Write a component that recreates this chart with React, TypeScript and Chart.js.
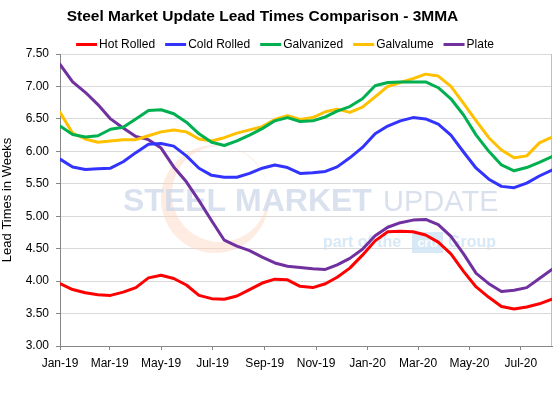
import { useEffect, useRef } from "react";
import { Chart, registerables } from "chart.js";

Chart.register(...registerables);

// ---- data ----
const surveyDates = [
  "2019-01-01", "2019-01-16", "2019-01-31", "2019-02-15", "2019-03-02", "2019-03-17", "2019-04-01", "2019-04-16",
  "2019-05-01", "2019-05-16", "2019-05-31", "2019-06-15", "2019-06-30", "2019-07-15", "2019-07-30", "2019-08-14",
  "2019-08-29", "2019-09-13", "2019-09-28", "2019-10-13", "2019-10-28", "2019-11-12", "2019-11-26", "2019-12-11",
  "2019-12-26", "2020-01-10", "2020-01-25", "2020-02-09", "2020-02-24", "2020-03-10", "2020-03-25", "2020-04-09",
  "2020-04-24", "2020-05-09", "2020-05-24", "2020-06-08", "2020-06-23", "2020-07-08", "2020-07-23", "2020-08-07",
];

const hotRolled = [
  3.96, 3.87, 3.82, 3.79, 3.78, 3.83, 3.90, 4.05, 4.09, 4.04,
  3.94, 3.78, 3.73, 3.72, 3.77, 3.87, 3.97, 4.03, 4.02, 3.92,
  3.90, 3.96, 4.06, 4.20, 4.40, 4.62, 4.76, 4.77, 4.76, 4.71,
  4.60, 4.42, 4.15, 3.91, 3.75, 3.61, 3.57, 3.60, 3.65, 3.72,
];
const coldRolled = [
  5.88, 5.76, 5.72, 5.73, 5.74, 5.84, 5.98, 6.11, 6.12, 6.08,
  5.93, 5.74, 5.63, 5.60, 5.60, 5.66, 5.74, 5.79, 5.75, 5.66,
  5.67, 5.69, 5.76, 5.90, 6.06, 6.27, 6.39, 6.47, 6.52, 6.50,
  6.42, 6.25, 5.99, 5.74, 5.57, 5.46, 5.44, 5.51, 5.62, 5.71,
];
const galvanized = [
  6.39, 6.26, 6.22, 6.24, 6.34, 6.37, 6.50, 6.63, 6.64, 6.58,
  6.45, 6.27, 6.14, 6.09, 6.16, 6.25, 6.35, 6.47, 6.52, 6.46,
  6.47, 6.53, 6.62, 6.69, 6.81, 7.01, 7.06, 7.07, 7.07, 7.07,
  6.98, 6.81, 6.56, 6.25, 6.00, 5.79, 5.70, 5.75, 5.83, 5.92,
];
const galvalume = [
  6.60, 6.28, 6.19, 6.14, 6.16, 6.18, 6.18, 6.24, 6.30, 6.33,
  6.30, 6.19, 6.16, 6.21, 6.28, 6.33, 6.38, 6.49, 6.55, 6.49,
  6.52, 6.61, 6.65, 6.60, 6.68, 6.84, 7.00, 7.06, 7.12, 7.19,
  7.16, 7.00, 6.74, 6.47, 6.21, 6.02, 5.90, 5.93, 6.13, 6.22,
];
const plate = [
  7.34, 7.07, 6.91, 6.72, 6.50, 6.36, 6.23, 6.18, 6.05, 5.76,
  5.53, 5.24, 4.93, 4.63, 4.54, 4.47, 4.37, 4.28, 4.23, 4.21,
  4.19, 4.18, 4.25, 4.35, 4.49, 4.70, 4.83, 4.90, 4.94, 4.95,
  4.87, 4.69, 4.42, 4.12, 3.96, 3.84, 3.86, 3.90, 4.04, 4.18,
];

const seriesNames = ["Hot Rolled", "Cold Rolled", "Galvanized", "Galvalume", "Plate"];
const seriesColors = ["#FF0000", "#3333FF", "#00B050", "#FFC000", "#7030A0"];
const seriesValues = [hotRolled, coldRolled, galvanized, galvalume, plate];

const tickDates = [
  "2019-01-01", "2019-03-01", "2019-05-01", "2019-07-01", "2019-09-01",
  "2019-11-01", "2020-01-01", "2020-03-01", "2020-05-01", "2020-07-01",
];
const tickLabels = ["Jan-19", "Mar-19", "May-19", "Jul-19", "Sep-19", "Nov-19", "Jan-20", "Mar-20", "May-20", "Jul-20"];

const chartTitle = "Steel Market Update Lead Times Comparison - 3MMA";
const yAxisTitle = "Lead Times in Weeks";
const yMin = 3;
const yMax = 7.5;
const yStep = 0.5;

const DAY_MS = 86400000;
const originMs = Date.parse(surveyDates[0]);
const toDay = (d: string) => (Date.parse(d) - originMs) / DAY_MS;

const FONT = "'Liberation Sans', Arial, sans-serif";

const decorPlugin = {
  id: "smuDecor",
  beforeDatasetsDraw(chart: any) {
    const { ctx, chartArea: ca } = chart;
    ctx.save();
    // right border of plot area
    ctx.strokeStyle = "#BFBFBF";
    ctx.lineWidth = 1;
    ctx.beginPath();
    ctx.moveTo(Math.round(ca.right) - 0.5, ca.top);
    ctx.lineTo(Math.round(ca.right) - 0.5, ca.bottom);
    ctx.stroke();

    // watermark ring
    const cx = ca.left + 155;
    const cy = ca.top + 145;
    ctx.beginPath();
    ctx.arc(cx, cy, 54, 0, Math.PI * 2);
    ctx.arc(cx + 5, cy - 5, 48, 0, Math.PI * 2, true);
    ctx.fillStyle = "rgba(252, 212, 192, 0.45)";
    ctx.fill();

    // watermark text
    ctx.textAlign = "left";
    ctx.textBaseline = "alphabetic";
    ctx.fillStyle = "rgba(205, 215, 232, 0.75)";
    ctx.font = `bold 32px ${FONT}`;
    ctx.fillText("STEEL MARKET", ca.left + 63, ca.top + 157);
    ctx.font = `29px ${FONT}`;
    ctx.fillText("UPDATE", ca.left + 323, ca.top + 157);

    ctx.fillStyle = "rgba(205, 226, 244, 0.8)";
    ctx.font = `bold 16px ${FONT}`;
    ctx.fillText("part of the", ca.left + 263, ca.top + 193);
    ctx.fillRect(ca.left + 352, ca.top + 178, 31, 21);
    ctx.fillText("Group", ca.left + 388, ca.top + 193);
    ctx.fillStyle = "rgba(255,255,255,0.9)";
    ctx.font = `bold 13px ${FONT}`;
    ctx.textAlign = "center";
    ctx.fillText("cru", ca.left + 367.5, ca.top + 193);
    ctx.restore();
  },
  afterDraw(chart: any) {
    const { ctx } = chart;
    ctx.save();
    // title
    ctx.fillStyle = "#000";
    ctx.textAlign = "center";
    ctx.textBaseline = "middle";
    ctx.font = `bold 15.5px ${FONT}`;
    ctx.fillText(chartTitle, 262.5, 16.5);

    // legend
    ctx.font = `12px ${FONT}`;
    ctx.textAlign = "left";
    const lineLen = 21;
    const gap = 2;
    const itemGap = 10;
    const items = chart.data.datasets.map((ds: any) => ({
      text: ds.label,
      color: ds.borderColor,
      w: ctx.measureText(ds.label).width,
    }));
    const total =
      items.reduce((s: number, it: any) => s + lineLen + gap + it.w, 0) + itemGap * (items.length - 1);
    let x = 285 - total / 2;
    const y = 45;
    for (const it of items) {
      ctx.fillStyle = it.color;
      ctx.fillRect(x, y - 2, lineLen, 3);
      ctx.fillStyle = "#000";
      ctx.fillText(it.text, x + lineLen + gap, y);
      x += lineLen + gap + it.w + itemGap;
    }
    ctx.restore();
  },
};

export default function App() {
  const canvasRef = useRef<HTMLCanvasElement | null>(null);

  useEffect(() => {
    if (!canvasRef.current) return;
    const xs = surveyDates.map(toDay);
    const chart = new Chart(canvasRef.current, {
      type: "line",
      data: {
        datasets: seriesNames.map((name, si) => ({
          label: name,
          data: seriesValues[si].map((v, i) => ({ x: xs[i], y: v })),
          borderColor: seriesColors[si],
          backgroundColor: seriesColors[si],
          borderWidth: 3,
          pointRadius: 0,
          tension: 0,
          borderJoinStyle: "round",
          borderCapStyle: "round",
          fill: false,
        })),
      },
      options: {
        animation: false,
        responsive: false,
        devicePixelRatio: 1,
        layout: { padding: { top: 54, right: 8, left: 0, bottom: 0 } },
        plugins: {
          legend: { display: false },
          title: { display: false },
          tooltip: { enabled: false },
        },
        scales: {
          x: {
            type: "linear",
            bounds: "data",
            min: 0,
            max: xs[xs.length - 1],
            afterBuildTicks: (scale: any) => {
              scale.ticks = tickDates.map((d) => ({ value: toDay(d) }));
            },
            afterFit: (scale: any) => {
              scale.height = 47;
            },
            ticks: {
              autoSkip: false,
              maxRotation: 0,
              minRotation: 0,
              padding: 6,
              color: "#000",
              font: { family: FONT, size: 12 },
              callback: (_v: any, index: number) => tickLabels[index] ?? "",
            },
            grid: {
              drawOnChartArea: false,
              drawTicks: true,
              tickLength: 4,
              tickColor: "#868686",
            },
            border: { color: "#868686", width: 1 },
          },
          y: {
            min: yMin,
            max: yMax,
            afterFit: (scale: any) => {
              scale.width = 60;
            },
            ticks: {
              stepSize: yStep,
              padding: 7,
              color: "#000",
              font: { family: FONT, size: 12 },
              callback: (v: any) => Number(v).toFixed(2),
            },
            grid: {
              color: "#D9D9D9",
              lineWidth: 1,
              tickLength: 4,
              tickColor: "#868686",
            },
            border: { color: "#868686", width: 1 },
            title: {
              display: true,
              text: yAxisTitle,
              color: "#000",
              padding: 0,
              font: { family: FONT, size: 13 },
            },
          },
        },
      },
      plugins: [decorPlugin],
    } as any);
    return () => chart.destroy();
  }, []);

  return (
    <div style={{ position: "fixed", left: 0, top: 0, width: 560, height: 393, background: "#fff" }}>
      <canvas ref={canvasRef} width={560} height={393} style={{ width: 560, height: 393 }} />
    </div>
  );
}
